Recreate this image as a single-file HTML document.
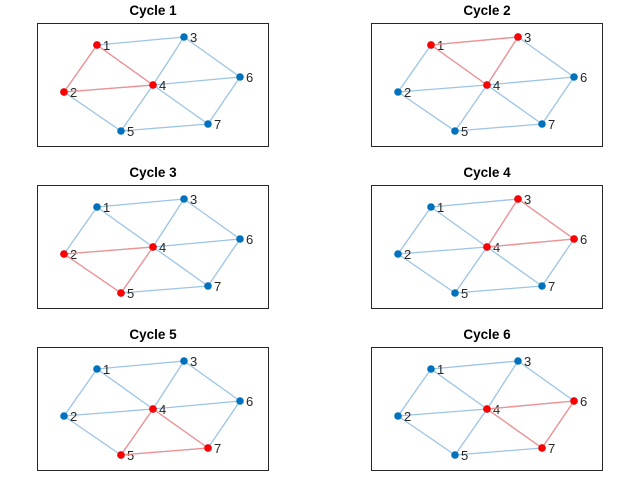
<!DOCTYPE html>
<html><head><style>body{margin:0;background:#fff}svg{display:block}</style></head><body>
<svg width="633" height="485" xmlns="http://www.w3.org/2000/svg" font-family="Liberation Sans, sans-serif">
<defs>
<g id="base">
<rect x="37.5" y="23.5" width="231" height="123" fill="#fff" stroke="#262626" stroke-width="1"/>
<g stroke="#9CC4E6" stroke-width="1.3">
<line x1="97" y1="45" x2="184" y2="37"/><line x1="97" y1="45" x2="153" y2="85"/><line x1="97" y1="45" x2="64" y2="92"/>
<line x1="64" y1="92" x2="153" y2="85"/><line x1="64" y1="92" x2="121" y2="131"/><line x1="184" y1="37" x2="153" y2="85"/>
<line x1="184" y1="37" x2="240" y2="77"/><line x1="153" y1="85" x2="240" y2="77"/><line x1="153" y1="85" x2="121" y2="131"/>
<line x1="153" y1="85" x2="208" y2="124"/><line x1="121" y1="131" x2="208" y2="124"/><line x1="240" y1="77" x2="208" y2="124"/>
</g>
<g fill="#0072BD">
<circle cx="97" cy="45" r="3.8"/><circle cx="64" cy="92" r="3.8"/><circle cx="184" cy="37" r="3.8"/><circle cx="153" cy="85" r="3.8"/>
<circle cx="121" cy="131" r="3.8"/><circle cx="240" cy="77" r="3.8"/><circle cx="208" cy="124" r="3.8"/>
</g>
<g font-size="13" fill="#262626">
<text x="103" y="50">1</text><text x="70" y="97">2</text><text x="190" y="42">3</text><text x="159" y="90">4</text>
<text x="127" y="136">5</text><text x="246" y="82">6</text><text x="214" y="129">7</text>
</g>
</g>
</defs>
<g font-size="13.5" font-weight="bold" fill="#000" text-anchor="middle">
<text x="153" y="15">Cycle 1</text><text x="487" y="15">Cycle 2</text>
<text x="153" y="177">Cycle 3</text><text x="487" y="177">Cycle 4</text>
<text x="153" y="339">Cycle 5</text><text x="487" y="339">Cycle 6</text>
</g>
<g><use href="#base"/>
<g stroke="#F39090" stroke-width="1.3"><line x1="97" y1="45" x2="64" y2="92"/><line x1="64" y1="92" x2="153" y2="85"/><line x1="97" y1="45" x2="153" y2="85"/></g>
<g fill="#f00"><circle cx="97" cy="45" r="3.8"/><circle cx="64" cy="92" r="3.8"/><circle cx="153" cy="85" r="3.8"/></g></g>
<g transform="translate(334,0)"><use href="#base"/>
<g stroke="#F39090" stroke-width="1.3"><line x1="97" y1="45" x2="184" y2="37"/><line x1="184" y1="37" x2="153" y2="85"/><line x1="97" y1="45" x2="153" y2="85"/></g>
<g fill="#f00"><circle cx="97" cy="45" r="3.8"/><circle cx="184" cy="37" r="3.8"/><circle cx="153" cy="85" r="3.8"/></g></g>
<g transform="translate(0,162)"><use href="#base"/>
<g stroke="#F39090" stroke-width="1.3"><line x1="64" y1="92" x2="153" y2="85"/><line x1="64" y1="92" x2="121" y2="131"/><line x1="153" y1="85" x2="121" y2="131"/></g>
<g fill="#f00"><circle cx="64" cy="92" r="3.8"/><circle cx="121" cy="131" r="3.8"/><circle cx="153" cy="85" r="3.8"/></g></g>
<g transform="translate(334,162)"><use href="#base"/>
<g stroke="#F39090" stroke-width="1.3"><line x1="184" y1="37" x2="153" y2="85"/><line x1="184" y1="37" x2="240" y2="77"/><line x1="153" y1="85" x2="240" y2="77"/></g>
<g fill="#f00"><circle cx="184" cy="37" r="3.8"/><circle cx="240" cy="77" r="3.8"/><circle cx="153" cy="85" r="3.8"/></g></g>
<g transform="translate(0,324)"><use href="#base"/>
<g stroke="#F39090" stroke-width="1.3"><line x1="153" y1="85" x2="121" y2="131"/><line x1="153" y1="85" x2="208" y2="124"/><line x1="121" y1="131" x2="208" y2="124"/></g>
<g fill="#f00"><circle cx="121" cy="131" r="3.8"/><circle cx="208" cy="124" r="3.8"/><circle cx="153" cy="85" r="3.8"/></g></g>
<g transform="translate(334,324)"><use href="#base"/>
<g stroke="#F39090" stroke-width="1.3"><line x1="153" y1="85" x2="240" y2="77"/><line x1="153" y1="85" x2="208" y2="124"/><line x1="240" y1="77" x2="208" y2="124"/></g>
<g fill="#f00"><circle cx="240" cy="77" r="3.8"/><circle cx="208" cy="124" r="3.8"/><circle cx="153" cy="85" r="3.8"/></g></g>
</svg>
</body></html>
